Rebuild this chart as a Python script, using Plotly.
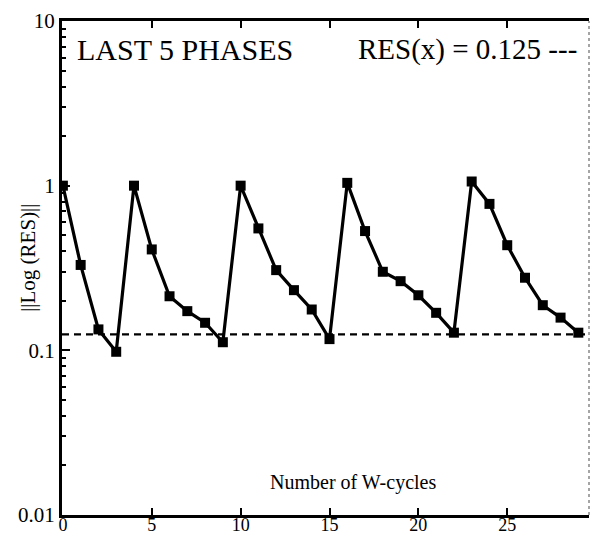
import plotly.graph_objects as go

# Residual norm per W-cycle over the last five phases
cycles = list(range(30))
residual = [1.0, 0.33, 0.134, 0.098,
            1.0, 0.41, 0.213, 0.173, 0.147, 0.112,
            1.0, 0.55, 0.307, 0.232, 0.177, 0.117,
            1.04, 0.53, 0.30, 0.263, 0.216, 0.169, 0.128,
            1.06, 0.775, 0.435, 0.276, 0.188, 0.158, 0.128]
target_res = 0.125
x_ticks = [0, 5, 10, 15, 20, 25]
y_ticks = [0.01, 0.1, 1, 10]
y_tick_text = ["0.01", "0.1", "1", "10"]

FONT = "Liberation Serif"

fig = go.Figure()

# reference level
fig.add_trace(go.Scatter(
    x=[-0.05, 29.6], y=[target_res, target_res], mode="lines",
    line=dict(color="black", width=2.2, dash="7px,5px"),
    hoverinfo="skip", showlegend=False))

fig.add_trace(go.Scatter(
    x=cycles, y=residual, mode="lines+markers",
    line=dict(color="black", width=3.2),
    marker=dict(symbol="square", size=10, color="black"),
    showlegend=False))

# faint right-hand frame
fig.add_shape(type="line", xref="paper", yref="paper", x0=1, x1=1, y0=0, y1=1,
              line=dict(color="#888888", width=1.5, dash="dot"))

fig.add_annotation(x=0.68, y=0.824, xref="x", yref="y", text="LAST 5 PHASES",
                   showarrow=False, xanchor="left", yanchor="middle",
                   font=dict(family=FONT, size=30, color="black"))
fig.add_annotation(x=29.05, y=0.824, xref="x", yref="y", text="RES(x) = 0.125 ---",
                   showarrow=False, xanchor="right", yanchor="middle",
                   font=dict(family=FONT, size=29, color="black"))
fig.add_annotation(x=16.3, y=-1.8, xref="x", yref="y", text="Number of W-cycles",
                   showarrow=False, xanchor="center", yanchor="middle",
                   font=dict(family=FONT, size=20, color="black"))
fig.add_annotation(x=-0.065, y=0.52, xref="paper", yref="paper", text="||Log (RES)||",
                   showarrow=False, textangle=-90, xanchor="center", yanchor="middle",
                   font=dict(family=FONT, size=21, color="black"))

fig.update_xaxes(
    range=[-0.05, 29.6], tickvals=x_ticks, ticks="inside", ticklen=7, tickwidth=2,
    tickcolor="black", showline=True, linecolor="black", linewidth=3,
    mirror="ticks", showgrid=False, zeroline=False, automargin=False,
    ticklabelstandoff=-9,
    tickfont=dict(family=FONT, size=18, color="black"))
fig.update_yaxes(
    type="log", range=[-2, 1], tickvals=y_ticks, ticktext=y_tick_text,
    ticks="inside", ticklen=8, tickwidth=2, tickcolor="black",
    minor=dict(ticks="inside", ticklen=4, tickwidth=1.5, tickcolor="black",
               dtick="D1", showgrid=False),
    showline=True, linecolor="black", linewidth=3, showgrid=False, zeroline=False,
    automargin=False,
    tickfont=dict(family=FONT, size=21, color="black"))

fig.update_layout(
    width=590, height=537,
    margin=dict(l=62, r=1, t=21, b=22),
    paper_bgcolor="white", plot_bgcolor="white",
    font=dict(family=FONT, color="black"))

fig.write_html("out.html")
